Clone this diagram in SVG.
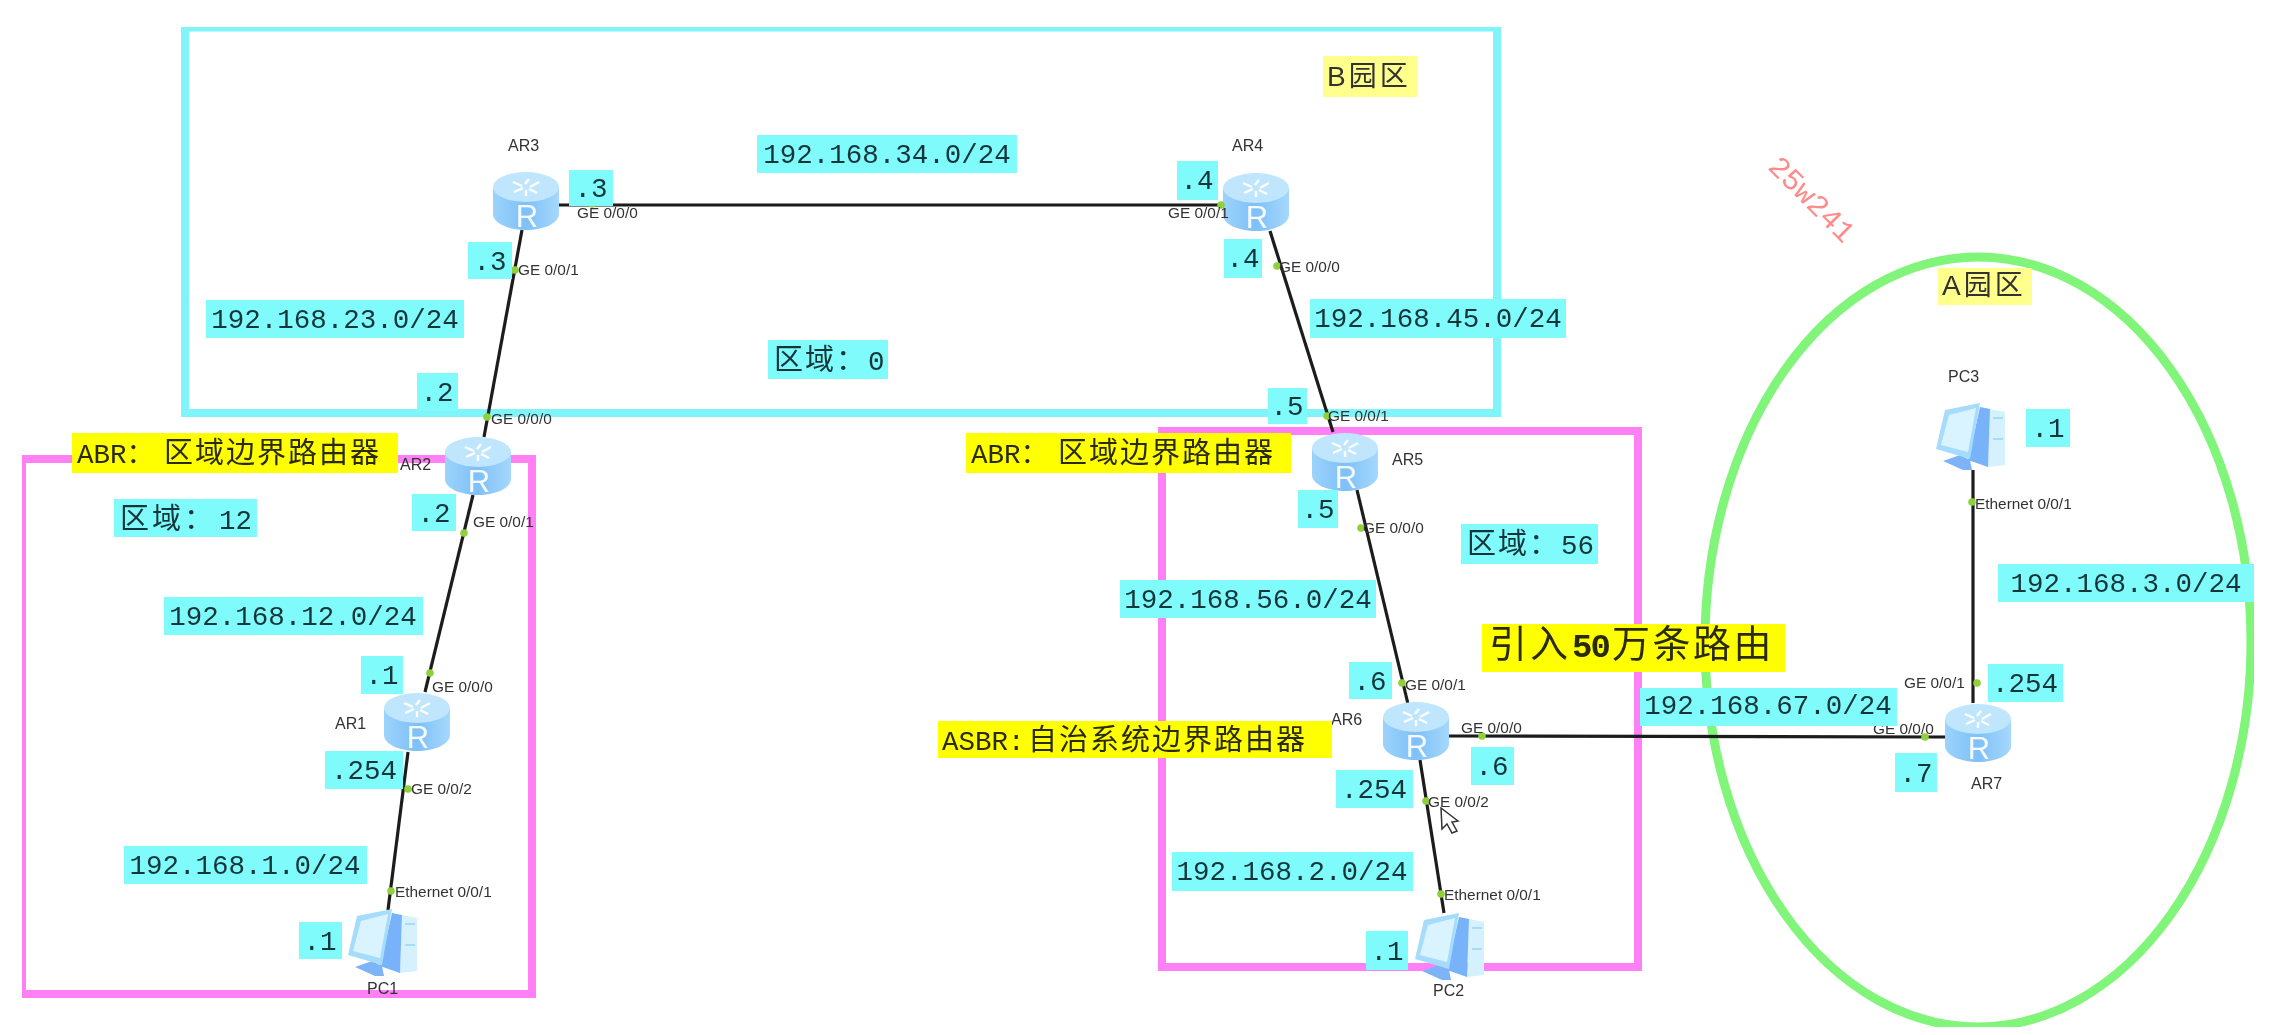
<svg xmlns="http://www.w3.org/2000/svg" xmlns:xlink="http://www.w3.org/1999/xlink" width="2295" height="1035" viewBox="0 0 2295 1035">
<style>
.frame{fill:none;stroke-width:8}
.link{stroke:#1c1c1c;stroke-width:3.2;fill:none}
.dot{fill:#8fd13a}
.port{font:15.4px "Liberation Sans",Arial,sans-serif;fill:#333}
.dev{font:16px "Liberation Sans",Arial,sans-serif;fill:#333}
.r{font:31px "Liberation Sans",Arial,sans-serif;fill:#fff;text-anchor:middle;opacity:.92}
.c{fill:#7ffbfb}
.y{fill:#ffff00}
.ly{fill:#ffff8c}
.t{font:27.5px "Liberation Mono","Noto Sans CJK SC",monospace;fill:#12353a;text-anchor:middle}
.k{font:27.5px "Liberation Mono","Noto Sans CJK SC",monospace;fill:#2b2b10}
.kc{font-size:29px;letter-spacing:2px}
.z{font:29px "Liberation Mono","Noto Sans CJK SC",monospace;fill:#12353a}
.d{font-size:27.5px;letter-spacing:0}
.p{font:28px "Liberation Sans","Noto Sans CJK SC",sans-serif;fill:#333;letter-spacing:3px}
</style>
<defs>
<filter id="soft" x="0" y="0" width="100%" height="100%"><feGaussianBlur stdDeviation="0.5"/></filter>
<linearGradient id="body" x1="0" x2="1" y1="0" y2="0"><stop offset="0" stop-color="#9bd3fb"/><stop offset=".5" stop-color="#7fc0f8"/><stop offset="1" stop-color="#a5d8fc"/></linearGradient>
<symbol id="router" width="66" height="58" viewBox="0 0 66 58" overflow="visible">
<path d="M0 16V42C0 51 15 58 33 58S66 51 66 42V16Z" fill="url(#body)"/>
<ellipse cx="33" cy="15" rx="33" ry="15" fill="#bfe6fd"/>
<path d="M20 10l9 4M36 7l-4 5M46 10l-9 5M21 20l9-4M44 21l-8-4M33 24v-6" stroke="#fff" stroke-width="2.4" fill="none"/>
</symbol>
<symbol id="pc" width="70" height="69" viewBox="0 0 70 69" overflow="visible">
<polygon points="8,59 25,53 35,58 37,68 28,68" fill="#7db4f7"/>
<polygon points="55,7 70,10 70,63 53,65" fill="#d4f1fd"/>
<polygon points="45,5 55,7 53,65 33,58" fill="#78b2f8"/>
<polygon points="10,8 45,1 35,57 1,47" fill="#a6dcfb"/>
<polygon points="14,13 41,6 33,50 6,43" fill="#d9f4fe"/>
<path d="M58 16h10M58 37h10" stroke="#a6dcfb" stroke-width="2"/>
</symbol>
</defs>
<rect width="2295" height="1035" fill="#fff"/>
<g filter="url(#soft)">
<g id="areas">
<rect class="frame" x="185" y="27.500" width="1312" height="385.500" stroke="#7ff5f9"/>
<rect class="frame" x="22" y="459" width="510" height="535" stroke="#ff80f5"/>
<rect class="frame" x="1162" y="431" width="476" height="536" stroke="#ff80f5"/>
<ellipse class="frame" cx="1978" cy="642" rx="273" ry="385" stroke="#80f57a" style="stroke-width:9"/>
</g>
<g id="connectors">
<line class="link" x1="559" y1="205" x2="1225" y2="205"/>
<line class="link" x1="522" y1="230" x2="484" y2="437"/>
<line class="link" x1="473" y1="495" x2="425" y2="692"/>
<line class="link" x1="408" y1="752" x2="388" y2="910"/>
<line class="link" x1="1270" y1="231" x2="1333" y2="432"/>
<line class="link" x1="1357" y1="490" x2="1408" y2="704"/>
<line class="link" x1="1420" y1="760" x2="1444" y2="913"/>
<line class="link" x1="1448" y1="736" x2="1945" y2="737"/>
<line class="link" x1="1973" y1="470" x2="1973" y2="703"/>
</g>
<g id="node-AR3">
<use xlink:href="#router" href="#router" x="493" y="172"/><text class="r" x="527" y="227">R</text>
<text class="dev" x="508" y="151">AR3</text>
<circle class="dot" cx="592" cy="204" r="3.8"/><text class="port" x="577" y="218">GE 0/0/0</text>
<circle class="dot" cx="515" cy="270" r="3.8"/><text class="port" x="518" y="275">GE 0/0/1</text>
</g>
<g id="node-AR4">
<use xlink:href="#router" href="#router" x="1223" y="173"/><text class="r" x="1257" y="228">R</text>
<text class="dev" x="1232" y="151">AR4</text>
<circle class="dot" cx="1221" cy="205" r="3.8"/><text class="port" x="1168" y="218">GE 0/0/1</text>
<circle class="dot" cx="1277" cy="266" r="3.8"/><text class="port" x="1279" y="272">GE 0/0/0</text>
</g>
<g id="node-AR2">
<use xlink:href="#router" href="#router" x="445" y="437"/><text class="r" x="479" y="492">R</text>
<text class="dev" x="400" y="470">AR2</text>
<circle class="dot" cx="487" cy="417" r="3.8"/><text class="port" x="491" y="424">GE 0/0/0</text>
<circle class="dot" cx="464" cy="533" r="3.8"/><text class="port" x="473" y="527">GE 0/0/1</text>
</g>
<g id="node-AR1">
<use xlink:href="#router" href="#router" x="384" y="693"/><text class="r" x="418" y="748">R</text>
<text class="dev" x="335" y="729">AR1</text>
<circle class="dot" cx="430" cy="673" r="3.8"/><text class="port" x="432" y="692">GE 0/0/0</text>
<circle class="dot" cx="408" cy="789" r="3.8"/><text class="port" x="411" y="794">GE 0/0/2</text>
</g>
<g id="node-PC1">
<use xlink:href="#pc" href="#pc" x="347" y="908"/>
<text class="dev" x="367" y="994">PC1</text>
<circle class="dot" cx="391" cy="891" r="3.8"/><text class="port" x="395" y="897">Ethernet 0/0/1</text>
</g>
<g id="node-AR5">
<use xlink:href="#router" href="#router" x="1312" y="433"/><text class="r" x="1346" y="488">R</text>
<text class="dev" x="1392" y="465">AR5</text>
<circle class="dot" cx="1327" cy="416" r="3.8"/><text class="port" x="1328" y="421">GE 0/0/1</text>
<circle class="dot" cx="1361" cy="528" r="3.8"/><text class="port" x="1363" y="533">GE 0/0/0</text>
</g>
<g id="node-AR6">
<use xlink:href="#router" href="#router" x="1383" y="702"/><text class="r" x="1417" y="757">R</text>
<text class="dev" x="1331" y="725">AR6</text>
<circle class="dot" cx="1402" cy="683" r="3.8"/><text class="port" x="1405" y="690">GE 0/0/1</text>
<circle class="dot" cx="1482" cy="736" r="3.8"/><text class="port" x="1461" y="733">GE 0/0/0</text>
<circle class="dot" cx="1426" cy="801" r="3.8"/><text class="port" x="1428" y="807">GE 0/0/2</text>
</g>
<g id="node-PC2">
<use xlink:href="#pc" href="#pc" x="1414" y="912"/>
<text class="dev" x="1433" y="996">PC2</text>
<circle class="dot" cx="1441" cy="894" r="3.8"/><text class="port" x="1444" y="900">Ethernet 0/0/1</text>
</g>
<g id="node-AR7">
<use xlink:href="#router" href="#router" x="1945" y="704"/><text class="r" x="1979" y="759">R</text>
<text class="dev" x="1971" y="789">AR7</text>
<circle class="dot" cx="1977" cy="683" r="3.8"/><text class="port" x="1904" y="688">GE 0/0/1</text>
<circle class="dot" cx="1925" cy="737" r="3.8"/><text class="port" x="1873" y="734">GE 0/0/0</text>
</g>
<g id="node-PC3">
<use xlink:href="#pc" href="#pc" x="1935" y="402"/>
<text class="dev" x="1948" y="382">PC3</text>
<circle class="dot" cx="1972" cy="502" r="3.8"/><text class="port" x="1975" y="509">Ethernet 0/0/1</text>
</g>
<g id="labels">
<rect class="c" x="757" y="135" width="260" height="38"/><text class="t" x="887" y="163">192.168.34.0/24</text>
<rect class="c" x="206" y="300" width="258" height="38"/><text class="t" x="335" y="328">192.168.23.0/24</text>
<rect class="c" x="1310" y="299" width="256" height="39"/><text class="t" x="1438" y="327">192.168.45.0/24</text>
<rect class="c" x="164" y="597" width="259" height="38"/><text class="t" x="293" y="625">192.168.12.0/24</text>
<rect class="c" x="124" y="846" width="243" height="38"/><text class="t" x="245" y="874">192.168.1.0/24</text>
<rect class="c" x="1120" y="580" width="256" height="38"/><text class="t" x="1248" y="608">192.168.56.0/24</text>
<rect class="c" x="1172" y="852" width="241" height="39"/><text class="t" x="1292" y="880">192.168.2.0/24</text>
<rect class="c" x="1640" y="688" width="257" height="38"/><text class="t" x="1768" y="714">192.168.67.0/24</text>
<rect class="c" x="1998" y="564" width="256" height="38"/><text class="t" x="2126" y="592">192.168.3.0/24</text>
<rect class="c" x="569" y="170" width="44" height="36"/><text class="t" x="591" y="197">.3</text>
<rect class="c" x="468" y="242" width="44" height="37"/><text class="t" x="490" y="270">.3</text>
<rect class="c" x="1177" y="161" width="41" height="39"/><text class="t" x="1197" y="189">.4</text>
<rect class="c" x="1224" y="239" width="38" height="39"/><text class="t" x="1243" y="267">.4</text>
<rect class="c" x="417" y="373" width="41" height="38"/><text class="t" x="437" y="401">.2</text>
<rect class="c" x="412" y="494" width="44" height="37"/><text class="t" x="434" y="522">.2</text>
<rect class="c" x="361" y="656" width="42" height="38"/><text class="t" x="382" y="684">.1</text>
<rect class="c" x="325" y="751" width="78" height="38"/><text class="t" x="364" y="779">.254</text>
<rect class="c" x="299" y="922" width="43" height="37"/><text class="t" x="320" y="950">.1</text>
<rect class="c" x="1268" y="388" width="39" height="36"/><text class="t" x="1287" y="415">.5</text>
<rect class="c" x="1298" y="490" width="40" height="38"/><text class="t" x="1318" y="518">.5</text>
<rect class="c" x="1349" y="662" width="43" height="37"/><text class="t" x="1370" y="690">.6</text>
<rect class="c" x="1336" y="770" width="77" height="38"/><text class="t" x="1374" y="798">.254</text>
<rect class="c" x="1471" y="747" width="43" height="38"/><text class="t" x="1492" y="775">.6</text>
<rect class="c" x="1366" y="931" width="42" height="39"/><text class="t" x="1387" y="960">.1</text>
<rect class="c" x="1988" y="664" width="75" height="38"/><text class="t" x="2025" y="692">.254</text>
<rect class="c" x="1895" y="753" width="42" height="39"/><text class="t" x="1916" y="782">.7</text>
<rect class="c" x="2026" y="409" width="44" height="38"/><text class="t" x="2048" y="437">.1</text>
<rect class="c" x="768" y="340" width="120" height="39"/><text class="z" x="774" y="370" letter-spacing="2">区域：<tspan class="d" x="868">0</tspan></text>
<rect class="c" x="114" y="499" width="143" height="38"/><text class="z" x="120" y="529" letter-spacing="3">区域：<tspan class="d" x="219">12</tspan></text>
<rect class="c" x="1461" y="524" width="137" height="40"/><text class="z" x="1467" y="554" letter-spacing="2">区域：<tspan class="d" x="1561">56</tspan></text>
<rect class="y" x="72" y="433" width="326" height="40"/><text class="k" x="77" y="463">ABR：<tspan class="kc" x="164">区域边界路由器</tspan></text>
<rect class="y" x="966" y="433" width="325" height="40"/><text class="k" x="971" y="463">ABR：<tspan class="kc" x="1058">区域边界路由器</tspan></text>
<rect class="y" x="938" y="721" width="394" height="37"/><text class="k" x="942" y="750">ASBR:<tspan class="kc" x="1028">自治系统边界路由器</tspan></text>
<rect class="y" x="1482" y="624" width="303" height="48"/><text y="657" style="font:38px 'Noto Sans CJK SC',sans-serif;fill:#2b2b10"><tspan x="1489" letter-spacing="3">引入</tspan><tspan x="1572" letter-spacing="-2" style="font:bold 34px 'Liberation Mono',monospace">50</tspan><tspan x="1612" letter-spacing="2.500">万条路由</tspan></text>
<rect class="ly" x="1323" y="56" width="94" height="41"/><text class="p" x="1327" y="86">B园区</text>
<rect class="ly" x="1938" y="268" width="94" height="37"/><text class="p" x="1942" y="295">A园区</text>
</g>
<text transform="translate(1812 199) rotate(45)" x="0" y="10" text-anchor="middle" style="font:30px 'Liberation Mono',monospace;fill:#ff8a8a">25w241</text>
<path d="M1441 808l1 21 5-5 5 9 5-2-5-9 6-1z" fill="#fff" stroke="#333" stroke-width="1.5"/>
</g>
</svg>
